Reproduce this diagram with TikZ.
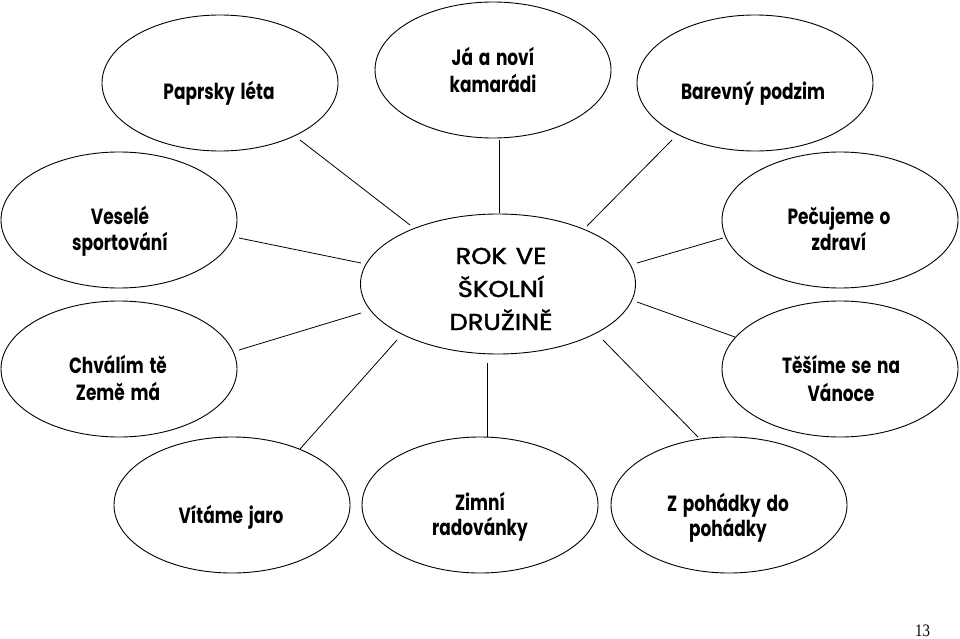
\documentclass[tikz,border=0pt]{standalone}
\usepackage{fontspec}
\usetikzlibrary{shapes.geometric,calc}
\newfontfamily\labfont{Poppins}[FakeStretch=0.77,WordSpace=1.6]
\newfontfamily\ctrfont{Poppins}[FakeStretch=1.12,FakeBold=1.8,WordSpace=1.3]
\newfontfamily\numfont{Liberation Serif}[FakeStretch=0.85]
\newcommand\twoln[3]{\vtop{\baselineskip=#1pt\lineskiplimit=-20pt\halign{\hfil##\hfil\cr #2\cr #3\cr}}}
\newcommand\threeln[4]{\vtop{\baselineskip=#1pt\lineskiplimit=-20pt\halign{\hfil##\hfil\cr #2\cr #3\cr #4\cr}}}
\begin{document}
\begin{tikzpicture}[x=1pt,y=-1pt,
  bub/.style={ellipse, draw, line width=0.9pt, minimum width=236pt, minimum height=136pt, inner sep=0pt},
  bigbub/.style={bub, minimum width=275pt, minimum height=140pt},
  lab/.style={anchor=base, inner sep=0pt, font=\labfont\bfseries\fontsize{22}{26}\selectfont},
  ctrlab/.style={anchor=base, inner sep=0pt, font=\ctrfont\fontsize{23}{27}\selectfont},
  link/.style={draw, line width=0.8pt}]
\fill[white] (0,0) rectangle (960,639);
\useasboundingbox (0,0) rectangle (960,639);
% bubbles
\node[bub] (pap) at (220,83) {};
\node[bub] (ja) at (493,70) {};
\node[bub] (bar) at (755,83) {};
\node[bub] (ves) at (119,220) {};
\node[bub] (pec) at (840,220) {};
\node[bigbub] (ctr) at (498,284) {};
\node[bub] (chv) at (119,369) {};
\node[bub] (tes) at (840,369) {};
\node[bub] (vit) at (232,505) {};
\node[bub] (zim) at (480,505) {};
\node[bub] (poh) at (729,505) {};
% texts
\node[lab] (tpap) at (219,99.5) {Paprsky léta};
\node[lab] (tja) at (493,66) {\twoln{27}{Já a noví}{kamarádi}};
\node[lab] (tbar) at (753,100) {Barevný podzim};
\node[lab] (tves) at (120,224) {\twoln{26}{Veselé}{sportování}};
\node[lab] (tpec) at (839,224) {\twoln{26}{Pečujeme o}{zdraví}};
\node[ctrlab] (tctr) at (501,264) {\threeln{33}{ROK VE}{ŠKOLNÍ}{DRUŽINĚ}};
\node[lab] (tchv) at (118,373) {\twoln{27}{Chválím tě}{Země má}};
\node[lab] (ttes) at (841,373) {\twoln{28}{Těšíme se na}{Vánoce}};
\node[lab] (tvit) at (231,523) {Vítáme jaro};
\node[lab] (tzim) at (480,510) {\twoln{25}{Zimní}{radovánky}};
\node[lab] (tpoh) at (728,511) {\twoln{25}{Z pohádky do}{pohádky}};
\node[anchor=base, inner sep=0pt, font=\numfont\fontsize{17.5}{20}\selectfont] (pnum) at (922.5,636.5) {13};
% connectors
\draw[link] ($(pap)+(80,57)$) -- ($(ctr)+(-88,-59)$);
\draw[link] ($(ja)+(6,70)$) -- ($(ctr)+(1,-71)$);
\draw[link] ($(bar)+(-83,57)$) -- ($(ctr)+(89,-58)$);
\draw[link] ($(ves)+(120,18)$) -- ($(ctr)+(-137,-21)$);
\draw[link] ($(pec)+(-117,18)$) -- ($(ctr)+(139,-21)$);
\draw[link] ($(chv)+(120,-19)$) -- ($(ctr)+(-137,29)$);
\draw[link] ($(tes)+(-105,-32)$) -- ($(ctr)+(139,18)$);
\draw[link] ($(vit)+(68,-56)$) -- ($(ctr)+(-101,56)$);
\draw[link] ($(zim)+(7,-68)$) -- ($(ctr)+(-11,79)$);
\draw[link] ($(poh)+(-31,-68)$) -- ($(ctr)+(105,56)$);
\end{tikzpicture}
\end{document}
